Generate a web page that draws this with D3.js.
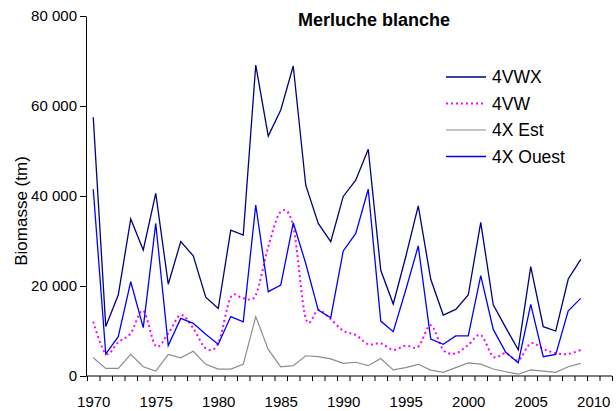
<!DOCTYPE html>
<html>
<head>
<meta charset="utf-8">
<script src="https://cdn.jsdelivr.net/npm/d3@7"></script>
<style>
  body { margin: 0; background: #fff; }
  svg { display: block; font-family: "Liberation Sans", Arial, sans-serif; }
</style>
</head>
<body>
<svg id="chart"></svg>
<script>
const years = d3.range(1970, 2010);

const vwx = [57500, 11000, 18000, 34900, 28000, 40600, 20400, 29850, 26700, 17500,
             15000, 32400, 31300, 69100, 53300, 59100, 68900, 42400, 33900, 29850,
             39900, 43500, 50400, 23500, 16000, 26500, 37800, 21500, 13550, 14800,
             18000, 34150, 15800, 10750, 5800, 24300, 10950, 10000, 21550, 25900];

const vw = [12050, 5000, 7500, 9500, 14500, 6650, 9500, 13550, 10600, 6150,
            7250, 17500, 17250, 18000, 28700, 36500, 33200, 12800, 14650, 12600,
            10050, 9100, 7050, 7250, 5800, 6750, 6500, 11300, 5800, 5050,
            6900, 9100, 4300, 5050, 3500, 7250, 6000, 5050, 4900, 5800];

const xEst = [4050, 1700, 1700, 4800, 2050, 1100, 4800, 4050, 5500, 2600,
              1550, 1550, 2600, 13200, 5900, 2050, 2300, 4500, 4300, 3800,
              2800, 3050, 2300, 3900, 1350, 1850, 2600, 1300, 800, 1850,
              2900, 2650, 1550, 950, 400, 1350, 1100, 800, 2050, 2800];

const xOuest = [41500, 4900, 8750, 20950, 10750, 33900, 6750, 12800, 11700, 9300,
                7050, 13200, 12050, 38000, 18750, 20200, 34050, 25000, 14650, 12950,
                27800, 31700, 41500, 12200, 9850, 19100, 28900, 8200, 7050, 8900,
                8900, 22300, 10350, 5250, 2950, 15900, 4300, 4800, 14500, 17250];

const yTicks = [0, 20000, 40000, 60000, 80000];
const xLabels = [1970, 1975, 1980, 1985, 1990, 1995, 2000, 2005, 2010];

const series = [
  { name: "4VWX", values: vwx, color: "#000080", width: 1.3, dash: null, smooth: false },
  { name: "4VW", values: vw, color: "#ff00ff", width: 2, dash: "2,3", smooth: true },
  { name: "4X Est", values: xEst, color: "#8c8c8c", width: 1.2, dash: null, smooth: false },
  { name: "4X Ouest", values: xOuest, color: "#0000ff", width: 1.3, dash: null, smooth: false }
];

const W = 616, H = 411;
const svg = d3.select("#chart").attr("width", W).attr("height", H);

const x = d3.scaleLinear().domain([1969.5, 2011.5]).range([87, 612]);
const y = d3.scaleLinear().domain([0, 80000]).range([376, 16]);

const fmt = d3.formatLocale({ decimal: ",", thousands: " ", grouping: [3], currency: ["", ""] }).format(",");

// y axis
const yAxis = svg.append("g")
  .attr("transform", "translate(86,0)")
  .call(d3.axisLeft(y).tickValues(yTicks).tickFormat(fmt).tickSize(6).tickPadding(3).tickSizeOuter(0));
yAxis.selectAll("text").style("font-size", "15px").attr("fill", "#000");
yAxis.select(".domain").attr("stroke", "#000");

// x axis: minor ticks between years
const xAxis = svg.append("g")
  .attr("transform", "translate(0,376)")
  .call(d3.axisBottom(x).tickValues(d3.range(1969.5, 2012, 1)).tickFormat("").tickSize(5).tickSizeOuter(0));
xAxis.select(".domain").attr("stroke", "#000").attr("d", `M${x(1969.5) - 1},0H${x(2011.5)}`);

const xLab = svg.append("g")
  .attr("transform", "translate(0,376)")
  .call(d3.axisBottom(x).tickValues(xLabels).tickFormat(d3.format("d")).tickSize(0).tickPadding(20));
xLab.select(".domain").remove();
xLab.selectAll("text").style("font-size", "15px").attr("fill", "#000");

// lines
series.forEach(s => {
  const line = d3.line()
    .x((d, i) => x(years[i]))
    .y(d => y(d))
    .curve(s.smooth ? d3.curveCatmullRom.alpha(0) : d3.curveLinear);
  svg.append("path")
    .datum(s.values)
    .attr("fill", "none")
    .attr("stroke", s.color)
    .attr("stroke-width", s.width)
    .attr("stroke-dasharray", s.dash)
    .attr("d", line);
});

// title
svg.append("text")
  .attr("x", 374).attr("y", 26)
  .attr("text-anchor", "middle")
  .style("font-size", "18px").style("font-weight", "bold")
  .text("Merluche blanche");

// y label
svg.append("text")
  .attr("transform", "translate(27,211) rotate(-90)")
  .attr("text-anchor", "middle")
  .style("font-size", "17px")
  .text("Biomasse (tm)");

// legend
const legend = svg.append("g");
series.forEach((s, i) => {
  const ly = 77 + i * 26.5;
  legend.append("line")
    .attr("x1", 446).attr("x2", 486).attr("y1", ly).attr("y2", ly)
    .attr("stroke", s.color).attr("stroke-width", s.width)
    .attr("stroke-dasharray", s.dash);
  legend.append("text")
    .attr("x", 492).attr("y", ly).attr("dy", "0.36em")
    .style("font-size", "17.5px")
    .text(s.name);
});
</script>
</body>
</html>
